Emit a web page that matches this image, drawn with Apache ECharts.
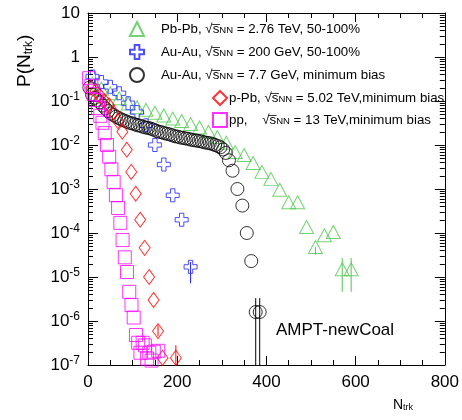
<!DOCTYPE html>
<html><head><meta charset="utf-8">
<script src="https://cdn.jsdelivr.net/npm/echarts@6/dist/echarts.min.js"></script>
<style>html,body{margin:0;padding:0;background:#fff}#c{width:462px;height:420px}</style>
</head><body><div id="c"></div>
<script>
// ---- data ----
const pbpbX = [10,30,50,70,90,110,130,150,170,190,210,230,250,270,290,310,330,350,370,390,410,430,450,470,490,510,530,550,570,590];
const pbpbY = [0.25,0.19,0.15,0.115,0.088,0.072,0.063,0.054,0.047,0.040,0.035,0.030,0.025,0.020,0.0151,0.0112,0.0069,0.0059,0.0039,0.00245,0.0017,0.00096,0.0005,0.0005,0.000137,0.000048,0.000089,0.000105,0.000015,0.000015];

const auau200X = [10,30,50,70,90,110,130,150,170,190,210,230];
const auau200Y = [0.36,0.27,0.21,0.15,0.089,0.056,0.028,0.010,0.0036,0.00072,0.0002,0.000017];

const auau77X = [3,9,15,21,27,33,39,45,51,57,63,69,75,81,87,93,99,105,111,117,123,129,135,141,147,153,159,165,171,177,183,189,195,201,207,213,219,225,231,237,243,249,255,261,267,273,279,285,291,297,303,309,316,324,335,346,356,366,376,385];
const auau77Y = [0.20,0.14,0.118,0.105,0.093,0.079,0.068,0.059,0.052,0.048,0.044,0.041,0.038,0.036,0.034,0.032,0.031,0.0295,0.028,0.0275,0.026,0.025,0.0245,0.0235,0.0224,0.021,0.020,0.0195,0.0186,0.018,0.0174,0.0166,0.0158,0.0155,0.0148,0.0145,0.0141,0.0138,0.0132,0.0129,0.0126,0.0123,0.012,0.0115,0.0112,0.011,0.0105,0.010,0.0095,0.0089,0.0079,0.0066,0.0045,0.0026,0.001,0.00042,0.0001,0.000023,0.0000016,0.0000016];

const ppbX = [7,17,27,37,47,57,67,77,87,97,107,117,127,137,147,157,167,197];
const ppbY = [0.20,0.17,0.13,0.10,0.08,0.055,0.035,0.020,0.0078,0.00245,0.00078,0.0002,0.000046,0.00001,0.000003,0.00000059,0.000000145,0.000000145];

const ppX = [2.5,7.5,12.5,17.5,22.5,27.5,32.5,37.5,42.5,47.5,52.5,57.5,62.5,67.5,72.5,77.5,82.5,87.5,92.5,97.5,102.5,107.5,112.5,117.5,122.5,127.5,132.5,137.5,142.5,147.5,157.5];
const ppY = [0.33,0.22,0.145,0.105,0.069,0.046,0.032,0.0186,0.01,0.0054,0.0028,0.00145,0.00072,0.00037,0.00017,0.000069,0.000028,0.000013,0.0000046,0.0000023,0.0000012,0.00000048,0.00000032,0.00000019,0.00000032,0.00000028,0.00000014,0.00000019,0.000000126,0.0000002,0.00000021];

// error bars: [x, low, high]
const errBlack = [[376,1e-7,3.3e-6],[385,1e-7,3.3e-6]];
const errGreen = [[570,4.6e-6,2.7e-5],[590,4.6e-6,2.7e-5],[510,3.2e-5,4.8e-5]];
const errBlue = [[230,7.2e-6,2.2e-5]];
const errRed = [[197,1e-7,2.8e-7],[157,4.5e-7,8e-7]];

const xTicks = [0,200,400,600,800];
const yMajor = [1e-7,1e-6,1e-5,1e-4,1e-3,1e-2,1e-1,1,10];
const yMinor = [];
for (let e = -7; e <= 0; e++) for (let k = 2; k <= 9; k++) yMinor.push(+(k * Math.pow(10, e)).toPrecision(3));

const FONT = "'Liberation Sans', Arial, sans-serif";
const zip = (a, b) => a.map((v, i) => [v, b[i]]);

const legendText = {
  'Pb-Pb': 'Pb-Pb, √s\u0305{sub|NN} = 2.76 TeV, 50-100%',
  'Au-Au 200': 'Au-Au, √s\u0305{sub|NN} = 200 GeV, 50-100%',
  'Au-Au 7.7': 'Au-Au, √s\u0305{sub|NN} = 7.7 GeV, minimum bias',
  'p-Pb': 'p-Pb, √s\u0305{sub|NN} = 5.02 TeV,minimum bias',
  'pp': 'pp,    √s\u0305{sub|NN} = 13 TeV,minimum bias'
};

const crossPath = 'path://M-1,-3L1,-3L1,-1L3,-1L3,1L1,1L1,3L-1,3L-1,1L-3,1L-3,-1L-1,-1Z';

function hollow(c) { return { color: 'rgba(0,0,0,0)', borderColor: c, borderWidth: 1 }; }

function errSeries(data, color) {
  return {
    type: 'custom', data: data, clip: true, silent: true, z: 1,
    encode: { x: 0, y: [1, 2] },
    renderItem: function (params, api) {
      const x = api.value(0);
      const p1 = api.coord([x, api.value(1)]);
      const p2 = api.coord([x, api.value(2)]);
      return { type: 'line', shape: { x1: p1[0], y1: p1[1], x2: p2[0], y2: p2[1] }, style: { stroke: color, lineWidth: 1 } };
    }
  };
}

const legendTextStyle = {
  fontSize: 13.3, fontFamily: FONT, color: '#000', padding: [0, 0, 0, 0],
  rich: { sub: { fontSize: 9.5, fontFamily: FONT, verticalAlign: 'bottom', padding: [0, 0, 0, 0] } }
};

const grid = { left: 88, right: 12, top: 13, bottom: 55 };

function xAx(pos) {
  return {
    type: 'value', min: 0, max: 800, interval: 200, position: pos,
    axisLine: { show: true, onZero: false, lineStyle: { color: '#000', width: 1 } },
    axisTick: { show: true, inside: true, length: 9, lineStyle: { color: '#000' } },
    minorTick: { show: true, splitNumber: 4, length: 5, lineStyle: { color: '#000' } },
    axisLabel: { show: pos === 'bottom', fontSize: 17, fontFamily: FONT, color: '#000', margin: 9,
      customValues: xTicks },
    splitLine: { show: false }, minorSplitLine: { show: false }
  };
}
function yAx(pos, major) {
  return {
    type: 'log', logBase: 10, min: 1e-7, max: 10, position: pos,
    axisLine: { show: major, onZero: false, lineStyle: { color: '#000', width: 1 } },
    axisTick: { show: true, inside: true, length: major ? 10 : 5, lineStyle: { color: '#000' },
      customValues: major ? yMajor : yMinor },
    axisLabel: {
      show: major && pos === 'left', margin: 8, fontSize: 17, fontFamily: FONT, color: '#000',
      customValues: yMajor,
      formatter: function (v) {
        const e = Math.round(Math.log10(v));
        if (e === 0) return '1';
        if (e === 1) return '10';
        return '10{sup|' + e + '}';
      },
      rich: { sup: { fontSize: 12, fontFamily: FONT, verticalAlign: 'top', padding: [0, 0, 8, 0] } }
    },
    splitLine: { show: false }
  };
}

const option = {
  animation: false,
  backgroundColor: '#fff',
  grid: grid,
  xAxis: [xAx('bottom'), xAx('top')],
  yAxis: [yAx('left', true), yAx('left', false), yAx('right', true), yAx('right', false)],
  legend: [
    { data: ['Pb-Pb', 'Au-Au 200', 'Au-Au 7.7'], orient: 'vertical', left: 124, top: 16,
      itemWidth: 14, itemHeight: 14, itemGap: 7, selectedMode: false,
      textStyle: Object.assign({}, legendTextStyle, { padding: [0, 0, 0, 12] }),
      formatter: n => legendText[n] },
    { data: ['p-Pb', 'pp'], orient: 'vertical', left: 207, top: 85,
      itemWidth: 14, itemHeight: 14, itemGap: 6, selectedMode: false,
      textStyle: Object.assign({}, legendTextStyle, { padding: [0, 0, 0, -3] }),
      formatter: n => legendText[n] }
  ],
  graphic: [
    { type: 'text', x: 276, y: 330, silent: true,
      style: { text: 'AMPT-newCoal', font: '17px ' + FONT, fill: '#000', textVerticalAlign: 'middle' } },
    { type: 'text', x: 25, y: 87, rotation: Math.PI / 2, silent: true,
      style: { text: 'P(N{s|trk})', font: '19px ' + FONT, fill: '#000', textAlign: 'left', textVerticalAlign: 'middle',
        rich: { s: { fontSize: 12, fontFamily: FONT, verticalAlign: 'bottom' } } } },
    { type: 'text', x: 393, y: 405, silent: true,
      style: { text: 'N{s|trk}', font: '14px ' + FONT, fill: '#000', textVerticalAlign: 'middle',
        rich: { s: { fontSize: 9, fontFamily: FONT, verticalAlign: 'bottom' } } } }
  ],
  series: [
    errSeries(errGreen, '#4fc84f'),
    errSeries(errBlue, '#2020ff'),
    errSeries(errBlack, '#000'),
    errSeries(errRed, '#ff0000'),
    { name: 'Pb-Pb', type: 'scatter', data: zip(pbpbX, pbpbY), symbol: 'triangle', symbolSize: [14, 13],
      itemStyle: hollow('#4fc84f') },
    { name: 'Au-Au 200', type: 'scatter', data: zip(auau200X, auau200Y), symbol: crossPath, symbolSize: 13,
      itemStyle: hollow('#2020ff') },
    { name: 'Au-Au 7.7', type: 'scatter', data: zip(auau77X, auau77Y), symbol: 'circle', symbolSize: 13,
      itemStyle: hollow('#000') },
    { name: 'p-Pb', type: 'scatter', data: zip(ppbX, ppbY), symbol: 'diamond', symbolSize: [11, 15],
      itemStyle: hollow('#ff0000') },
    { name: 'pp', type: 'scatter', data: zip(ppX, ppY), symbol: 'rect', symbolSize: 13,
      itemStyle: hollow('#ff00ff') }
  ]
};
const chart = echarts.init(document.getElementById('c'), null, { renderer: 'canvas' });
chart.setOption(option);
</script></body></html>
